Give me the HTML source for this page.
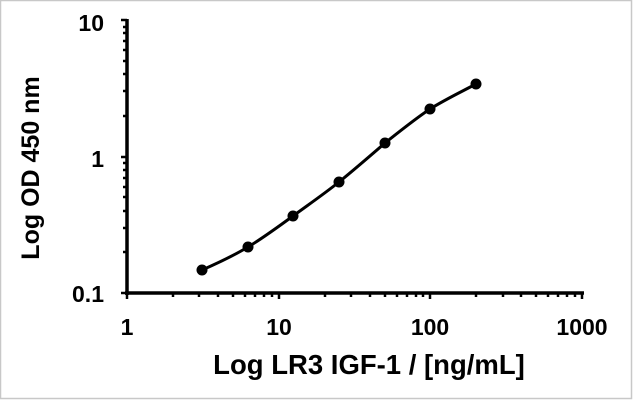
<!DOCTYPE html>
<html><head><style>
html,body{margin:0;padding:0;background:#fff}
svg{display:block}
text{font-family:"Liberation Sans",Arial,sans-serif;font-weight:bold;fill:#000}
</style></head><body>
<svg width="633" height="400" viewBox="0 0 633 400" xmlns="http://www.w3.org/2000/svg">
<rect x="0.5" y="0.5" width="631" height="398" fill="#fff" stroke="#c8c8c8" stroke-width="1.5"/>
<g stroke="#000" stroke-width="3.5" fill="none">
<line x1="127" y1="19" x2="127" y2="295"/>
<line x1="125" y1="293" x2="584" y2="293"/>
</g>
<g stroke="#000" stroke-width="2.5" id="ticks">
<line x1="121" y1="20" x2="127" y2="20"/><line x1="121" y1="157" x2="127" y2="157"/><line x1="121" y1="293" x2="127" y2="293"/>
<line x1="123" y1="27" x2="127" y2="27"/><line x1="123" y1="33" x2="127" y2="33"/><line x1="123" y1="41" x2="127" y2="41"/><line x1="123" y1="50" x2="127" y2="50"/><line x1="123" y1="61" x2="127" y2="61"/><line x1="123" y1="74" x2="127" y2="74"/><line x1="123" y1="91" x2="127" y2="91"/><line x1="123" y1="116" x2="127" y2="116"/>
<line x1="123" y1="163" x2="127" y2="163"/><line x1="123" y1="170" x2="127" y2="170"/><line x1="123" y1="178" x2="127" y2="178"/><line x1="123" y1="187" x2="127" y2="187"/><line x1="123" y1="197" x2="127" y2="197"/><line x1="123" y1="211" x2="127" y2="211"/><line x1="123" y1="228" x2="127" y2="228"/><line x1="123" y1="252" x2="127" y2="252"/>
<line x1="127" y1="293" x2="127" y2="299"/><line x1="279" y1="293" x2="279" y2="299"/><line x1="430" y1="293" x2="430" y2="299"/><line x1="582" y1="293" x2="582" y2="299"/>
<line x1="173" y1="293" x2="173" y2="297"/><line x1="199" y1="293" x2="199" y2="297"/><line x1="218" y1="293" x2="218" y2="297"/><line x1="233" y1="293" x2="233" y2="297"/><line x1="245" y1="293" x2="245" y2="297"/><line x1="255" y1="293" x2="255" y2="297"/><line x1="264" y1="293" x2="264" y2="297"/><line x1="272" y1="293" x2="272" y2="297"/>
<line x1="325" y1="293" x2="325" y2="297"/><line x1="351" y1="293" x2="351" y2="297"/><line x1="370" y1="293" x2="370" y2="297"/><line x1="385" y1="293" x2="385" y2="297"/><line x1="397" y1="293" x2="397" y2="297"/><line x1="407" y1="293" x2="407" y2="297"/><line x1="416" y1="293" x2="416" y2="297"/><line x1="423" y1="293" x2="423" y2="297"/>
<line x1="476" y1="293" x2="476" y2="297"/><line x1="503" y1="293" x2="503" y2="297"/><line x1="521" y1="293" x2="521" y2="297"/><line x1="536" y1="293" x2="536" y2="297"/><line x1="548" y1="293" x2="548" y2="297"/><line x1="558" y1="293" x2="558" y2="297"/><line x1="567" y1="293" x2="567" y2="297"/><line x1="575" y1="293" x2="575" y2="297"/>
</g>
<path d="M202,270 C218,263 233,256 248,247 C263,238 278,227 293,216 C308,205 324,194 339,182 C355,169 370,156 385,143 C400,131 415,119 430,109 C446,99 461,92 476,84" fill="none" stroke="#000" stroke-width="3"/>
<g fill="#000">
<circle cx="202" cy="270" r="5.5"/><circle cx="248" cy="247" r="5.5"/><circle cx="293" cy="216" r="5.5"/><circle cx="339" cy="182" r="5.5"/><circle cx="385" cy="143" r="5.5"/><circle cx="430" cy="109" r="5.5"/><circle cx="476" cy="84" r="5.5"/>
</g>
<g font-size="23" text-anchor="end">
<text x="104" y="31">10</text><text x="104" y="167">1</text><text x="104" y="302">0.1</text>
</g>
<g font-size="23" text-anchor="middle">
<text x="127" y="335">1</text><text x="279" y="335">10</text><text x="430" y="335">100</text><text x="582" y="335">1000</text>
</g>
<text x="369" y="374" font-size="27.5" text-anchor="middle">Log LR3 IGF-1 / [ng/mL]</text>
<text transform="translate(39,168) rotate(-90)" font-size="25" text-anchor="middle">Log OD 450 nm</text>
</svg>
</body></html>
